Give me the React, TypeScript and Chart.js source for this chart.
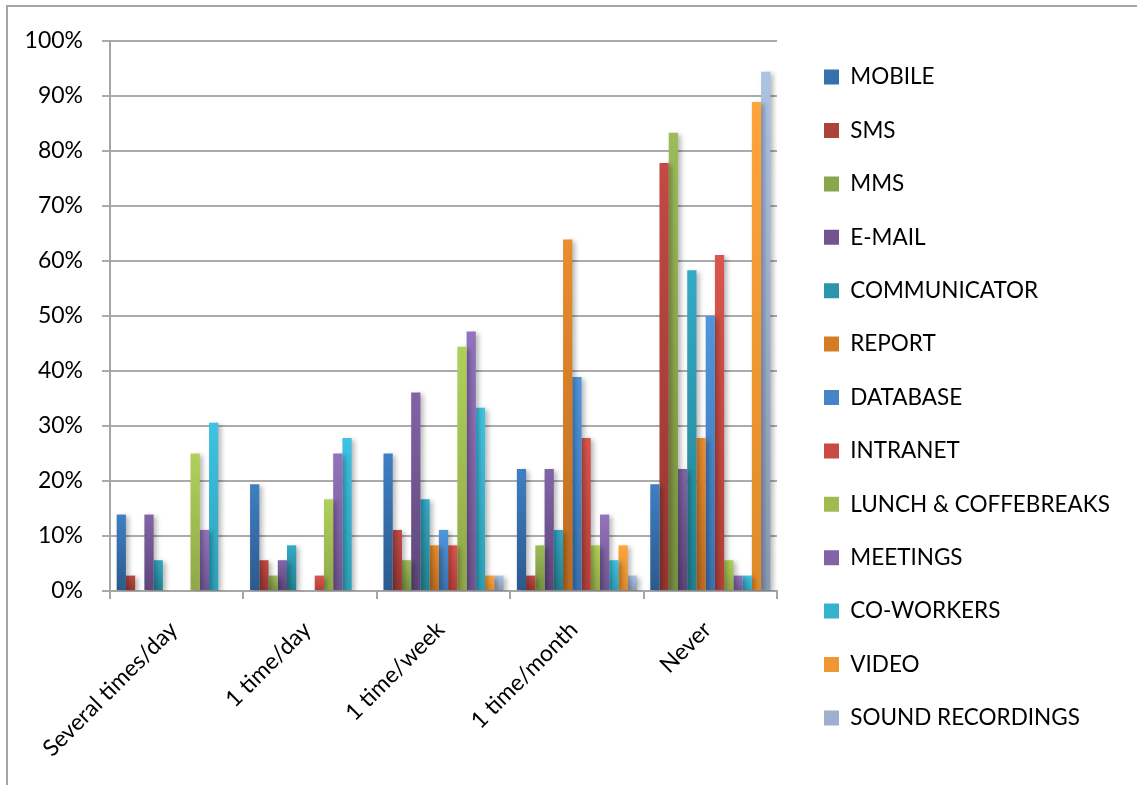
import React, { useEffect, useRef } from "react";
import { Chart, registerables } from "chart.js";

Chart.register(...registerables);

const categories = ["Several times/day", "1 time/day", "1 time/week", "1 time/month", "Never"];
const seriesNames = [
  "MOBILE", "SMS", "MMS", "E-MAIL", "COMMUNICATOR", "REPORT", "DATABASE",
  "INTRANET", "LUNCH & COFFEBREAKS", "MEETINGS", "CO-WORKERS", "VIDEO", "SOUND RECORDINGS",
];
const mobile = [13.9, 19.4, 25.0, 22.2, 19.4];
const sms = [2.8, 5.6, 11.1, 2.8, 77.8];
const mms = [0, 2.8, 5.6, 8.3, 83.3];
const email = [13.9, 5.6, 36.1, 22.2, 22.2];
const communicator = [5.6, 8.3, 16.7, 11.1, 58.3];
const report = [0, 0, 8.3, 63.9, 27.8];
const database = [0, 0, 11.1, 38.9, 50.0];
const intranet = [0, 2.8, 8.3, 27.8, 61.1];
const lunch = [25.0, 16.7, 44.4, 8.3, 5.6];
const meetings = [11.1, 25.0, 47.2, 13.9, 2.8];
const coworkers = [30.6, 27.8, 33.3, 5.6, 2.8];
const video = [0, 0, 2.8, 8.3, 88.9];
const sound = [0, 0, 2.8, 2.8, 94.4];
const yTicks = [0, 10, 20, 30, 40, 50, 60, 70, 80, 90, 100];

const seriesValues = [mobile, sms, mms, email, communicator, report, database, intranet, lunch, meetings, coworkers, video, sound];
const colorsTop = ["#3f7fc4", "#c24a43", "#9dbb5a", "#8164a6", "#34a9c6", "#e98d2e", "#4f96dc", "#d9564c", "#b0d05a", "#9373be", "#40c3e3", "#ffa43a", "#adc3e4"];
const colorsBottom = ["#2a5a8c", "#953630", "#76913f", "#5d4679", "#22818f", "#bd6b1f", "#3a72b0", "#b23f38", "#8fa847", "#6f5690", "#2da0b8", "#df8a2a", "#8a9ab4"];
const colorsLegend = ["#3670ad", "#ad423b", "#88a74c", "#70558f", "#2b96ab", "#d57c27", "#4584c7", "#c84b43", "#a0bc51", "#8164a6", "#36b2cf", "#f09733", "#9db0cd"];

const FONT = "Lato, 'Open Sans', sans-serif";
const PLOT_RIGHT = 777;
const LEGEND_BOX_X = 824;
const LEGEND_PAD = 30.9;

export default function App() {
  const canvasRef = useRef<HTMLCanvasElement | null>(null);

  useEffect(() => {
    const canvas = canvasRef.current;
    if (!canvas) return;

    const shadowPlugin = {
      id: "barShadow",
      beforeDatasetsDraw(chart: any) {
        const c = chart.ctx;
        c.save();
        c.shadowColor = "rgba(0,0,0,0.28)";
        c.shadowBlur = 5;
        c.shadowOffsetX = 3;
        c.shadowOffsetY = 2;
      },
      afterDatasetsDraw(chart: any) {
        chart.ctx.restore();
      },
    };

    const datasets = seriesNames.map((name, i) => ({
      label: name,
      data: seriesValues[i],
      borderWidth: 0,
      backgroundColor: (ctx: any) => {
        if (ctx.type !== "data") return colorsLegend[i];
        const chart = ctx.chart;
        const y = chart.scales && chart.scales.y;
        if (!y || !chart.chartArea) return colorsLegend[i];
        const top = y.getPixelForValue(ctx.raw);
        const bottom = y.getPixelForValue(0);
        if (!isFinite(top) || !isFinite(bottom) || bottom - top < 1) return colorsBottom[i];
        const g = chart.ctx.createLinearGradient(0, top, 0, bottom);
        g.addColorStop(0, colorsTop[i]);
        g.addColorStop(1, colorsBottom[i]);
        return g;
      },
    }));

    const defaultLabels = (Chart as any).defaults.plugins.legend.labels.generateLabels;

    const chart = new Chart(canvas, {
      type: "bar",
      data: { labels: categories, datasets },
      plugins: [shadowPlugin],
      options: {
        animation: false,
        responsive: true,
        maintainAspectRatio: false,
        layout: { padding: { top: 10, left: 0, right: 0, bottom: 0 } },
        datasets: { bar: { categoryPercentage: 0.9, barPercentage: 1.0 } },
        plugins: {
          tooltip: { enabled: false },
          legend: {
            position: "right",
            maxWidth: 500,
            labels: {
              boxWidth: 15,
              boxHeight: 15,
              padding: LEGEND_PAD,
              color: "#000",
              font: { family: FONT, size: 22.5 },
              generateLabels: (c: any) => {
                const items = defaultLabels(c);
                items.forEach((it: any, i: number) => {
                  it.fillStyle = colorsLegend[i];
                  it.strokeStyle = colorsLegend[i];
                  it.lineWidth = 0;
                });
                return items;
              },
            },
          },
        },
        scales: {
          x: {
            grid: {
              display: true,
              drawOnChartArea: false,
              drawTicks: true,
              tickLength: 8,
              color: "#a6a6a6",
              lineWidth: 2,
              offset: true,
            },
            border: { display: true, color: "#a6a6a6", width: 2 },
            ticks: {
              autoSkip: false,
              maxRotation: 45,
              minRotation: 45,
              padding: 17,
              labelOffset: -3,
              color: "#000",
              font: { family: FONT, size: 23 },
            },
            afterFit: (s: any) => {
              s.height = 194;
              s.paddingLeft = 0;
              s.paddingRight = 0;
            },
          },
          y: {
            min: 0,
            max: 100,
            afterBuildTicks: (s: any) => {
              s.ticks = yTicks.map((v) => ({ value: v }));
            },
            grid: { color: "#ababab", lineWidth: 2, tickLength: 8, drawTicks: true },
            border: { display: true, color: "#a6a6a6", width: 2 },
            ticks: {
              padding: 19,
              color: "#000",
              font: { family: FONT, size: 23 },
              callback: (v: any) => v + "%",
            },
            afterFit: (s: any) => {
              s.width = 110;
              s.paddingTop = 41;
              s.paddingBottom = 0;
            },
          },
          pad: {
            type: "linear",
            position: "right",
            display: true,
            grid: { display: false, drawTicks: false },
            border: { display: false },
            ticks: { display: false },
            afterFit: (s: any) => {
              s.width = LEGEND_BOX_X - LEGEND_PAD - PLOT_RIGHT;
              s.paddingTop = 0;
              s.paddingBottom = 0;
            },
          },
        },
      } as any,
    });

    const legend: any = (chart as any).legend;
    if (legend) {
      const want = LEGEND_BOX_X - LEGEND_PAD;
      const delta = legend.left - want;
      if (Math.abs(delta) > 0.3) {
        (chart.options as any).layout.padding.right = delta;
        chart.update();
      }
    }

    return () => chart.destroy();
  }, []);

  return (
    <div style={{ position: "fixed", left: 0, top: 0, width: 1137, height: 785, background: "#fff", overflow: "hidden" }}>
      <div
        style={{
          position: "absolute",
          left: 6,
          top: 5,
          width: 1200,
          height: 900,
          borderTop: "2px solid #a6a6a6",
          borderLeft: "2px solid #a6a6a6",
        }}
      />
      <div style={{ position: "absolute", left: 0, top: 0, width: 1137, height: 785 }}>
        <canvas ref={canvasRef} />
      </div>
    </div>
  );
}
